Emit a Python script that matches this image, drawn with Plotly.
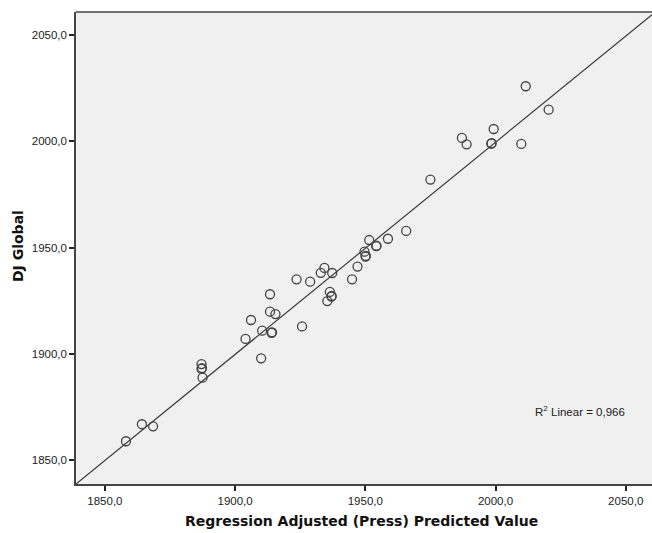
import plotly.graph_objects as go

# Data
pred_x = [1858.1, 1864.2, 1868.5, 1887.1, 1887.1, 1887.3, 1887.5, 1904.0, 1906.1, 1910.0,
          1910.4, 1913.4, 1915.5, 1914.0, 1914.2, 1925.7, 1913.4, 1923.6, 1928.8, 1934.3,
          1932.9, 1937.3, 1936.4, 1937.0, 1937.1, 1935.4, 1944.9, 1947.0, 1949.7, 1950.1,
          1950.2, 1951.5, 1954.2, 1954.3, 1958.7, 1965.7, 1975.0, 1987.1, 1988.9, 1998.4,
          1998.5, 1999.3, 2009.9, 2011.6, 2020.4]
dj_global = [1859.0, 1867.0, 1866.0, 1895.3, 1893.0, 1893.4, 1888.9, 1907.1, 1916.0, 1898.0,
             1911.0, 1919.9, 1918.8, 1910.0, 1910.2, 1913.0, 1928.1, 1935.1, 1934.0, 1940.5,
             1938.2, 1938.1, 1929.2, 1927.0, 1927.3, 1924.9, 1935.1, 1941.1, 1948.1, 1945.8,
             1946.1, 1953.6, 1950.7, 1950.9, 1954.2, 1957.9, 1982.0, 2001.6, 1998.6, 1998.9,
             1999.1, 2005.8, 1998.8, 2025.9, 2014.9]

fit_x = [1838.9, 2060.1]
fit_y = [1838.9, 2059.5]

tick_vals = [1850, 1900, 1950, 2000, 2050]
tick_text = ["1850,0", "1900,0", "1950,0", "2000,0", "2050,0"]

x_range = [1838.9, 2060.1]
y_range = [1838.9, 2060.8]

r2_label = "R<sup>2</sup> Linear = 0,966"
x_title = "<b>Regression Adjusted (Press) Predicted Value</b>"
y_title = "<b>DJ Global</b>"

fig = go.Figure()
fig.add_trace(go.Scatter(x=fit_x, y=fit_y, mode="lines",
                         line=dict(color="#3a3a3a", width=1.2),
                         hoverinfo="skip", showlegend=False))
fig.add_trace(go.Scatter(x=pred_x, y=dj_global, mode="markers",
                         marker=dict(symbol="circle-open", size=9,
                                     color="#444444", line=dict(width=1.3)),
                         showlegend=False))

axis_common = dict(
    tickvals=tick_vals, ticktext=tick_text,
    showgrid=False, zeroline=False,
    showline=True, linecolor="#444444", linewidth=1.5, mirror=False,
    ticks="outside", ticklen=5, tickwidth=1.5, tickcolor="#222222",
    tickfont=dict(family="Liberation Sans, Arial", size=11.5, color="#222222"),
)
fig.update_xaxes(range=x_range, **axis_common)
fig.update_yaxes(range=y_range, **axis_common)

# top border of the plot frame
fig.add_shape(type="line", xref="paper", yref="paper", x0=0, x1=1, y0=1, y1=1,
              line=dict(color="#444444", width=1.5))

fig.add_annotation(x=2032.5, y=1873.0, xref="x", yref="y", text=r2_label,
                   showarrow=False,
                   font=dict(family="Liberation Sans, Arial", size=11.5, color="#222222"))
fig.add_annotation(x=(361 - 76) / 576, y=-37 / 472, xref="paper", yref="paper",
                   text=x_title, showarrow=False, xanchor="center", yanchor="middle",
                   font=dict(family="DejaVu Sans", size=14, color="#111111"))
fig.add_annotation(x=(18 - 76) / 576, y=(484 - 246) / 472, xref="paper", yref="paper",
                   text=y_title, showarrow=False, textangle=-90,
                   xanchor="center", yanchor="middle",
                   font=dict(family="DejaVu Sans", size=14, color="#111111"))

fig.update_layout(
    width=652, height=533,
    margin=dict(l=76, r=0, t=12, b=49),
    plot_bgcolor="#f0f0f0", paper_bgcolor="#ffffff",
)

fig.write_html("out.html")
